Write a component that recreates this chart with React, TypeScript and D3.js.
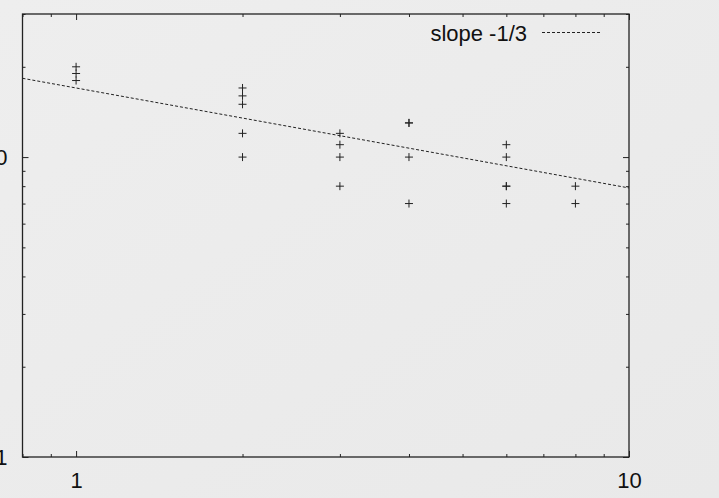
import React, {useEffect, useRef} from 'react';
import * as d3 from 'd3';

// measured points (x, y) - duplicates kept, they print darker in the original
const xs = [1, 1, 1, 2, 2, 2, 2, 2, 3, 3, 3, 3, 4, 4, 4, 4, 6, 6, 6, 6, 6, 8, 8];
const ys = [20, 19, 18, 17, 16, 15, 12, 10, 12, 11, 10, 8, 13, 13, 10, 7, 11, 10, 8, 8, 7, 8, 7];

const slopeLabel = 'slope -1/3';
const slopeCoef = 17;
const slopeExp = -1 / 3;

const xMajor = [1, 10];
const xMinor = [0.8, 0.9, 2, 3, 4, 5, 6, 7, 8, 9];
const yMajor = [1, 10];
const yMinor = [2, 3, 4, 5, 6, 7, 8, 9, 20, 30];

const App = () => {
    const svgRef = useRef(null);

    const width = 719;
    const height = 498;
    const left = 22.5;
    const top = 14;
    const right = 629;
    const bottom = 457;

    const x = d3.scaleLog().domain([0.8, 10]).range([left, right]);
    const y = d3.scaleLog().domain([1, 30]).range([bottom, top]);

    useEffect(() => {
        const svg = d3.select(svgRef.current);
        const fmt = (d) => String(d);

        const draw = (cls, axis, tx, ty) => {
            const g = svg.select(cls).attr('transform', `translate(${tx},${ty})`).call(axis);
            g.select('.domain').remove();
            g.selectAll('line').attr('stroke', '#222').attr('stroke-width', 1);
            g.selectAll('text')
                .attr('fill', '#111')
                .style('font-family', '"Liberation Sans", Arial, sans-serif')
                .style('font-size', '22px');
        };

        draw('.xb-major', d3.axisBottom(x).tickValues(xMajor).tickFormat(fmt).tickSizeInner(-6).tickPadding(15), 0, bottom);
        draw('.xb-minor', d3.axisBottom(x).tickValues(xMinor).tickFormat(() => '').tickSizeInner(-3), 0, bottom);
        draw('.xt-major', d3.axisTop(x).tickValues(xMajor).tickFormat(() => '').tickSizeInner(-6), 0, top);
        draw('.xt-minor', d3.axisTop(x).tickValues(xMinor).tickFormat(() => '').tickSizeInner(-3), 0, top);
        draw('.yl-major', d3.axisLeft(y).tickValues(yMajor).tickFormat(fmt).tickSizeInner(-6).tickPadding(15), left, 0);
        draw('.yl-minor', d3.axisLeft(y).tickValues(yMinor).tickFormat(() => '').tickSizeInner(-3), left, 0);
        draw('.yr-major', d3.axisRight(y).tickValues(yMajor).tickFormat(() => '').tickSizeInner(-6), right, 0);
        draw('.yr-minor', d3.axisRight(y).tickValues(yMinor).tickFormat(() => '').tickSizeInner(-3), right, 0);
    }, []);

    const fitLine = d3
        .line()
        .x((d) => x(d))
        .y((d) => y(slopeCoef * Math.pow(d, slopeExp)));

    const s = 4;

    return (
        <svg ref={svgRef} width={width} height={height} style={{position: 'absolute', left: 0, top: 0}}>
            <defs>
                <linearGradient id="bg" x1="0" y1="0" x2="1" y2="1">
                    <stop offset="0%" stopColor="#eeeeee" />
                    <stop offset="100%" stopColor="#e9e9e9" />
                </linearGradient>
            </defs>
            <rect width={width} height={height} fill="url(#bg)" />
            <path d={fitLine([0.8, 10])} fill="none" stroke="#222" strokeWidth={1} strokeDasharray="3,2" />
            <g>
                {xs.map((d, i) => (
                    <path
                        key={i}
                        d={`M${x(d) - s},${y(ys[i])}h${2 * s}M${x(d)},${y(ys[i]) - s}v${2 * s}`}
                        stroke="#222"
                        strokeWidth={1}
                        fill="none"
                    />
                ))}
            </g>
            <g className="xb-major" />
            <g className="xb-minor" />
            <g className="xt-major" />
            <g className="xt-minor" />
            <g className="yl-major" />
            <g className="yl-minor" />
            <g className="yr-major" />
            <g className="yr-minor" />
            <rect x={left} y={top} width={right - left} height={bottom - top} fill="none" stroke="#222" strokeWidth={1.3} />
            <text
                x={527}
                y={40.5}
                textAnchor="end"
                fill="#111"
                style={{fontFamily: '"Liberation Sans", Arial, sans-serif', fontSize: '22px'}}
            >
                {slopeLabel}
            </text>
            <line x1={542} x2={601} y1={32.5} y2={32.5} stroke="#222" strokeWidth={1} strokeDasharray="3,2" />
        </svg>
    );
};

export default App;
